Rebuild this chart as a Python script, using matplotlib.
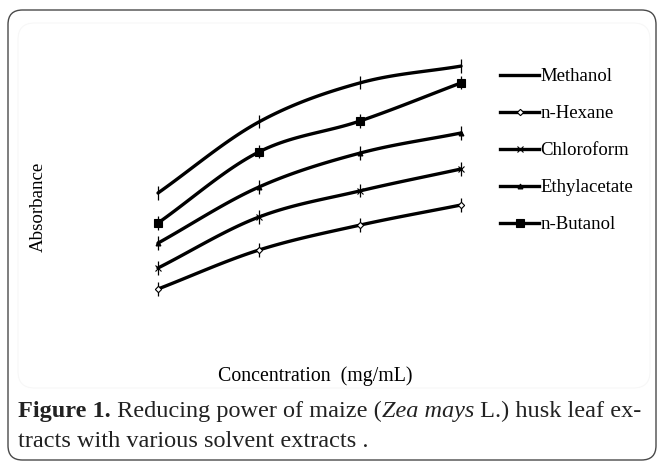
import numpy as np
import matplotlib
matplotlib.use("Agg")
import matplotlib.pyplot as plt
from matplotlib.lines import Line2D
from matplotlib.patches import FancyBboxPatch

# ---------------- data ----------------
concentration = [0.25, 0.50, 0.75, 1.00]
series_names = ["Methanol", "n-Hexane", "Chloroform", "Ethylacetate", "n-Butanol"]
methanol = [0.49, 0.727, 0.857, 0.913]
n_hexane = [0.17, 0.30, 0.383, 0.45]
chloroform = [0.24, 0.41, 0.497, 0.57]
ethylacetate = [0.323, 0.51, 0.623, 0.69]
n_butanol = [0.39, 0.627, 0.73, 0.857]
error = [0.022, 0.022, 0.022, 0.022]

values = [methanol, n_hexane, chloroform, ethylacetate, n_butanol]
markers = ["|", "D", "x", "^", "s"]
msizes = [1, 3.2, 5, 3.5, 5.5]
mfaces = ["black", "white", "black", "black", "black"]

W, H = 657, 461
fig = plt.figure(figsize=(W / 100, H / 100), dpi=100)
fig.patch.set_facecolor("white")

SERIF = ["Liberation Serif", "DejaVu Serif"]

def fx(px):
    return px / W

def fy(py):
    return 1 - py / H

# outer rounded frame
outer = FancyBboxPatch((fx(8), fy(460)), fx(648), 450 / H,
                       boxstyle="round,pad=0,rounding_size=0.022",
                       transform=fig.transFigure, fill=False,
                       edgecolor="#4a4a4a", linewidth=1.0,
                       mutation_aspect=W / H)
fig.add_artist(outer)
inner = FancyBboxPatch((fx(18), fy(388)), fx(632), 365 / H,
                       boxstyle="round,pad=0,rounding_size=0.025",
                       transform=fig.transFigure, fill=False,
                       edgecolor="#f7f7f7", linewidth=0.8,
                       mutation_aspect=W / H)
fig.add_artist(inner)

# axes: x=0 at px 57, 404 px per unit; y 0..1 spans px 340..40
ax = fig.add_axes([fx(57), fy(340), 424 / W, 300 / H])
ax.set_xlim(0, 424 / 404)
ax.set_ylim(0, 1)
ax.axis("off")


def smooth(x, y, n=24):
    x = np.asarray(x, float)
    y = np.asarray(y, float)
    P = np.column_stack([x, y])
    P = np.vstack([2 * P[0] - P[1], P, 2 * P[-1] - P[-2]])
    out = []
    for i in range(1, len(P) - 2):
        p0, p1, p2, p3 = P[i - 1], P[i], P[i + 1], P[i + 2]
        t = np.linspace(0, 1, n, endpoint=(i == len(P) - 3))[:, None]
        c = 0.5 * ((2 * p1) + (-p0 + p2) * t + (2 * p0 - 5 * p1 + 4 * p2 - p3) * t ** 2
                   + (-p0 + 3 * p1 - 3 * p2 + p3) * t ** 3)
        out.append(c)
    out = np.vstack(out)
    return out[:, 0], out[:, 1]


handles = []
for name, vals, m, ms, mf in zip(series_names, values, markers, msizes, mfaces):
    sx, sy = smooth(concentration, vals)
    ax.plot(sx, sy, color="black", lw=2.4, solid_capstyle="round", zorder=2)
    ax.errorbar(concentration, vals, yerr=error, fmt="none", ecolor="black",
                elinewidth=0.9, capsize=0, zorder=3)
    ax.plot(concentration, vals, linestyle="none", marker=m, markersize=ms,
            markerfacecolor=mf, markeredgecolor="black", markeredgewidth=0.8, zorder=4)
    handles.append(Line2D([0], [0], color="black", lw=2.4, marker=m,
                          markersize=ms, markerfacecolor=mf,
                          markeredgecolor="black", markeredgewidth=0.8))

leg = fig.legend(handles, series_names, loc="upper left",
                 bbox_to_anchor=(fx(500), fy(68)), frameon=False,
                 prop={"family": SERIF, "size": 13.5}, handlelength=2.1,
                 handletextpad=0.05, labelspacing=1.06, borderpad=0,
                 borderaxespad=0, numpoints=1)

fig.text(fx(38), fy(207), "Absorbance", rotation=90, ha="center", va="center",
         family=SERIF, fontsize=13.6)
fig.text(fx(315), fy(376), "Concentration  (mg/mL)", ha="center", va="center",
         family=SERIF, fontsize=14.3)

# caption
cap_size = 17.5
t1 = ax.annotate("Figure 1.", xy=(fx(18), fy(417)), xycoords="figure fraction",
                 va="baseline", ha="left", family=SERIF, fontsize=cap_size,
                 fontweight="bold", annotation_clip=False, color="#222222")
t2 = ax.annotate(" Reducing power of maize (", xy=(1, 0), xycoords=t1,
                 va="bottom", ha="left", family=SERIF, fontsize=cap_size,
                 annotation_clip=False, color="#222222")
t3 = ax.annotate("Zea mays", xy=(1, 0), xycoords=t2, va="bottom", ha="left",
                 family=SERIF, fontsize=cap_size, style="italic",
                 annotation_clip=False, color="#222222")
t4 = ax.annotate(" L.) husk leaf ex-", xy=(1, 0), xycoords=t3, va="bottom",
                 ha="left", family=SERIF, fontsize=cap_size,
                 annotation_clip=False, color="#222222")
ax.annotate("tracts with various solvent extracts .", xy=(fx(18), fy(447)),
            xycoords="figure fraction", va="baseline", ha="left", family=SERIF,
            fontsize=cap_size, annotation_clip=False, color="#222222")

fig.savefig("out.png", dpi=100)
